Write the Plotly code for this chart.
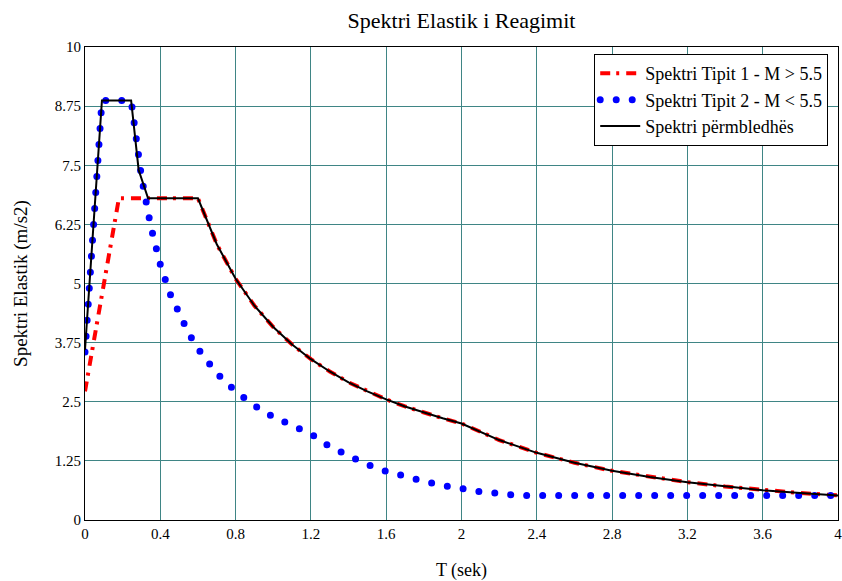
import plotly.graph_objects as go

# Type 1 spectrum (red, dash-dot)
t1 = [0, 0.18, 0.6, 0.7, 0.8, 0.9, 1.0, 1.1, 1.2, 1.3, 1.4, 1.5, 1.6, 1.7, 1.8, 1.9, 2.0,
      2.2, 2.4, 2.6, 2.8, 3.0, 3.2, 3.4, 3.6, 3.8, 4.0]
s1 = [2.72, 6.8, 6.8, 5.83, 5.1, 4.53, 4.08, 3.71, 3.4, 3.14, 2.91, 2.72, 2.55, 2.4, 2.27, 2.15, 2.04,
      1.69, 1.42, 1.21, 1.04, 0.91, 0.80, 0.71, 0.63, 0.57, 0.52]

# Type 2 spectrum (blue, dotted)
t2 = [0, 0.09, 0.245, 0.3, 0.35, 0.4, 0.45, 0.5, 0.55, 0.6, 0.7, 0.8, 0.9, 1.0, 1.1, 1.2,
      1.3, 1.4, 1.5, 1.6, 1.7, 1.8, 1.9, 2.0, 2.1, 2.2, 2.3, 2.6, 3.0, 3.4, 3.8, 4.0]
s2 = [3.55, 8.87, 8.87, 7.25, 6.2, 5.4, 4.8, 4.35, 3.95, 3.62, 3.1, 2.72, 2.42, 2.18, 1.98, 1.82,
      1.55, 1.34, 1.17, 1.03, 0.91, 0.82, 0.73, 0.66, 0.6, 0.56, 0.52, 0.52, 0.52, 0.52, 0.52, 0.52]

# Envelope spectrum (black)
t3 = [0, 0.09, 0.245, 0.285, 0.335, 0.6, 0.7, 0.8, 0.9, 1.0, 1.1, 1.2, 1.3, 1.4, 1.5, 1.6, 1.7, 1.8, 1.9, 2.0,
      2.2, 2.4, 2.6, 2.8, 3.0, 3.2, 3.4, 3.6, 3.8, 4.0]
s3 = [3.6, 8.87, 8.87, 7.4, 6.8, 6.8, 5.83, 5.1, 4.53, 4.08, 3.71, 3.4, 3.14, 2.91, 2.72, 2.55, 2.4, 2.27, 2.15, 2.04,
      1.69, 1.42, 1.21, 1.04, 0.91, 0.80, 0.71, 0.63, 0.57, 0.52]

x_ticks = [0, 0.4, 0.8, 1.2, 1.6, 2.0, 2.4, 2.8, 3.2, 3.6, 4.0]
x_labels = ["0", "0.4", "0.8", "1.2", "1.6", "2", "2.4", "2.8", "3.2", "3.6", "4"]
y_ticks = [0, 1.25, 2.5, 3.75, 5, 6.25, 7.5, 8.75, 10]
y_labels = ["0", "1.25", "2.5", "3.75", "5", "6.25", "7.5", "8.75", "10"]

FONT = "Liberation Serif, Times New Roman, serif"
GRID = "#3f8585"

fig = go.Figure()
fig.add_trace(go.Scatter(x=t1, y=s1, mode="lines", name="Spektri Tipit 1 - M > 5.5",
                         line=dict(color="#ff0000", width=4, dash="10px,6px,3px,7px")))
fig.add_trace(go.Scatter(x=t2, y=s2, mode="lines", name="Spektri Tipit 2 - M < 5.5",
                         line=dict(color="#0000ff", width=7, dash="0px,16px")))
fig.add_trace(go.Scatter(x=t3, y=s3, mode="lines", name="Spektri përmbledhës",
                         line=dict(color="#000000", width=2)))

fig.update_layout(
    width=842, height=581,
    margin=dict(l=85, r=4, t=47, b=61, autoexpand=False),
    paper_bgcolor="white", plot_bgcolor="white",
    font=dict(family=FONT, size=15, color="black"),
    title=dict(text="Spektri Elastik i Reagimit", x=0.5, xref="paper", xanchor="center",
               y=1 - 20 / 581, yanchor="middle",
               font=dict(family=FONT, size=22, color="black")),
    showlegend=True,
    legend=dict(x=0.987, y=0.985, xanchor="right", yanchor="top",
                bgcolor="white", bordercolor="black", borderwidth=1,
                font=dict(family=FONT, size=18, color="black"),
                tracegroupgap=0, itemwidth=40),
)
fig.update_xaxes(range=[0, 4], tickvals=x_ticks, ticktext=x_labels,
                 showgrid=True, gridcolor=GRID, gridwidth=1,
                 showline=True, linecolor="black", linewidth=1, mirror=True,
                 zeroline=False, ticks="", tickfont=dict(family=FONT, size=15),
                 automargin=False, ticklabeloverflow="allow",
                 title=dict(text="T (sek)", font=dict(family=FONT, size=18), standoff=22))
fig.update_yaxes(range=[0, 10], tickvals=y_ticks, ticktext=y_labels,
                 showgrid=True, gridcolor=GRID, gridwidth=1,
                 showline=True, linecolor="black", linewidth=1, mirror=True,
                 zeroline=False, ticks="", tickfont=dict(family=FONT, size=15),
                 automargin=False, ticklabeloverflow="allow",
                 title=dict(text="Spektri Elastik (m/s2)", font=dict(family=FONT, size=19), standoff=22))

post = """
document.body.style.margin = '0';
document.body.style.padding = '0';
document.documentElement.style.overflow = 'hidden';
document.body.style.overflow = 'hidden';
var gd = document.getElementById('{plot_id}');
function fixCaps(){
  document.querySelectorAll('path').forEach(function(p){
    var d = p.style.strokeDasharray || '';
    if (d.replace(/\\s/g,'').indexOf('0px,16px') === 0) { p.style.strokeLinecap = 'round'; }
  });
}
fixCaps();
if (gd && gd.on) { gd.on('plotly_afterplot', fixCaps); }
setTimeout(fixCaps, 50);
setTimeout(fixCaps, 300);
"""
fig.write_html("out.html", post_script=post, config={"displayModeBar": False})
